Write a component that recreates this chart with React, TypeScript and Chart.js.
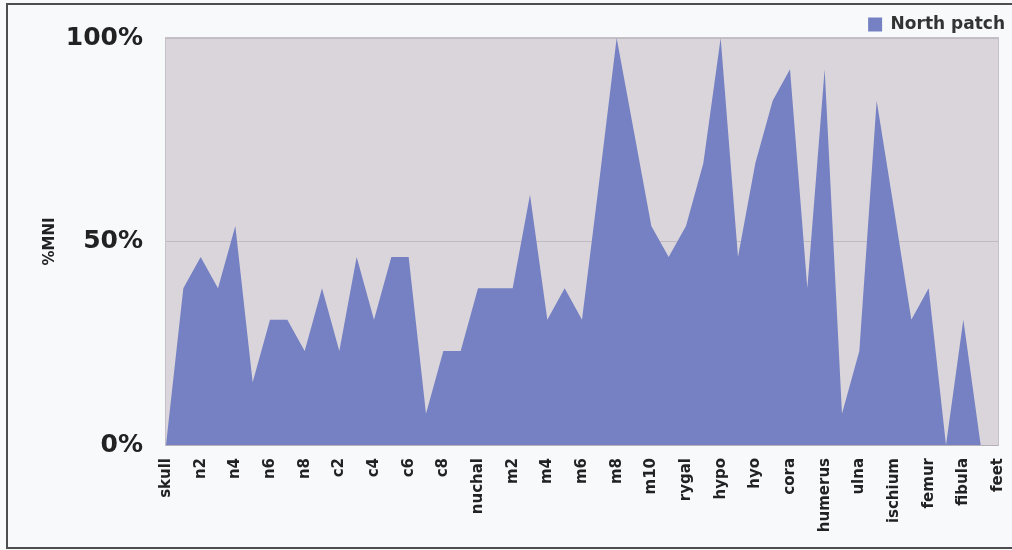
import React, { useEffect, useRef } from "react";
import { Chart, registerables } from "chart.js";

Chart.register(...registerables);

// Skeletal elements along the x axis (every second one is labelled)
const bones: string[] = [
  "skull", "n1", "n2", "n3", "n4", "n5", "n6", "n7", "n8",
  "c1", "c2", "c3", "c4", "c5", "c6", "c7", "c8", "spygal",
  "nuchal", "m1", "m2", "m3", "m4", "m5", "m6", "m7", "m8", "m9", "m10", "m11",
  "rygal", "epi", "hypo", "xiphi", "hyo", "ento", "cora", "scapula",
  "humerus", "radius", "ulna", "ilium", "ischium", "pubis", "femur", "tibia",
  "fibula", "hands", "feet",
];

// %MNI per element, North patch
const northPatch: number[] = [
  0, 38.5, 46.2, 38.5, 53.8, 15.4, 30.8, 30.8, 23.1,
  38.5, 23.1, 46.2, 30.8, 46.2, 46.2, 7.7, 23.1, 23.1,
  38.5, 38.5, 38.5, 61.5, 30.8, 38.5, 30.8, 65, 100, 76.9, 53.8, 46.2, 53.8,
  69.2, 100, 46.2, 69.2, 84.6, 92.3, 38.5, 92.3, 7.7, 23.1, 84.6, 58,
  30.8, 38.5, 0, 30.8, 0, 0,
];

const yTicks: number[] = [0, 50, 100];

const FONT = "'DejaVu Sans', Verdana, sans-serif";
const INK = "#222222";

// Light mauve plot background behind the area
const plotBackground = {
  id: "plotBackground",
  beforeDraw(chart: any) {
    const { ctx, chartArea: a } = chart;
    ctx.save();
    ctx.fillStyle = "#dad5db";
    ctx.fillRect(a.left, a.top, a.right - a.left, a.bottom - a.top);
    ctx.strokeStyle = "#c6c1c8";
    ctx.lineWidth = 1;
    ctx.strokeRect(a.left - 0.5, a.top - 0.5, a.right - a.left + 1, a.bottom - a.top + 1);
    ctx.restore();
  },
};

// Tighten the vertical space the legend reserves above the plot
const compactLegend = {
  id: "compactLegend",
  beforeLayout(chart: any) {
    const lg = chart.legend;
    if (lg && !lg.__compact) {
      const fit = lg.fit;
      lg.fit = function (this: any) {
        fit.call(this);
        this.height = Math.max(0, this.height - 5);
      };
      lg.__compact = true;
    }
  },
};

export default function App() {
  const canvasRef = useRef<HTMLCanvasElement | null>(null);

  useEffect(() => {
    if (!canvasRef.current) return;
    const chart = new Chart(canvasRef.current, {
      type: "line",
      data: {
        labels: bones,
        datasets: [
          {
            label: "North patch",
            data: northPatch,
            fill: "origin",
            backgroundColor: "#7581c2",
            borderColor: "#7581c2",
            borderWidth: 0,
            pointRadius: 0,
            tension: 0,
          },
        ],
      },
      options: {
        responsive: false,
        animation: false,
        layout: { padding: { top: 9, right: 0, bottom: 0, left: 0 } },
        plugins: {
          legend: {
            display: true,
            position: "top",
            align: "end",
            labels: {
              boxWidth: 14,
              boxHeight: 14,
              padding: 7,
              color: "#333333",
              font: { family: FONT, size: 17, weight: "bold" },
            },
          },
          tooltip: { enabled: false },
        },
        scales: {
          x: {
            type: "category",
            offset: false,
            grid: { display: false, drawTicks: false },
            border: { display: false },
            ticks: {
              autoSkip: false,
              maxRotation: 90,
              minRotation: 90,
              padding: 13,
              color: INK,
              font: { family: FONT, size: 15, weight: "bold" },
              callback: (_v: any, i: number) => (i % 2 === 0 ? bones[i] : ""),
            },
            afterFit: (scale: any) => {
              scale.height = 105;
              scale.paddingLeft = 0;
              scale.paddingRight = 14;
            },
          },
          y: {
            min: 0,
            max: 100,
            afterBuildTicks: (scale: any) => {
              scale.ticks = yTicks.map((v) => ({ value: v }));
            },
            grid: {
              color: "rgba(165,160,170,0.5)",
              lineWidth: 1,
              drawTicks: false,
            },
            border: { display: false },
            ticks: {
              padding: 23,
              color: INK,
              font: { family: FONT, size: 25, weight: "bold" },
              callback: (v: any) => `${v}%`,
            },
            title: {
              display: true,
              text: "%MNI",
              color: INK,
              font: { family: FONT, size: 15, weight: "bold" },
              padding: { top: 41, bottom: 0 },
            },
            afterFit: (scale: any) => {
              scale.width = 166;
            },
          },
        },
      },
      plugins: [plotBackground, compactLegend],
    });
    return () => chart.destroy();
  }, []);

  return (
    <div
      style={{
        position: "fixed",
        left: 0,
        top: 0,
        width: 1012,
        height: 550,
        overflow: "hidden",
        background: "#f8f9fb",
      }}
    >
      <div
        style={{
          position: "absolute",
          left: 6,
          top: 3,
          width: 1020,
          height: 546,
          boxSizing: "border-box",
          border: "2px solid #4d4d4f",
        }}
      />
      <canvas
        ref={canvasRef}
        width={1012}
        height={550}
        style={{ position: "absolute", left: 0, top: 0, display: "block" }}
      />
    </div>
  );
}
